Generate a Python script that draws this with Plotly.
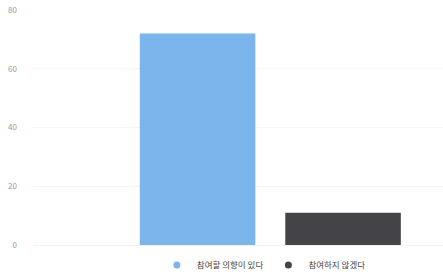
import plotly.graph_objects as go

categories = ["참여할 의향이 있다", "참여하지 않겠다"]
values = [72, 11]
colors = ["#7cb5ec", "#434348"]
y_ticks = [0, 20, 40, 60, 80]

fig = go.Figure()
for cat, val, col in zip(categories, values, colors):
    fig.add_trace(go.Bar(
        x=[cat], y=[val], name=cat, width=0.794,
        marker=dict(color=col, line=dict(width=0)),
        showlegend=False, hoverinfo="y",
    ))
    # legend entries with circle symbols
    fig.add_trace(go.Scatter(
        x=[None], y=[None], mode="markers", name=cat,
        marker=dict(color=col, size=7, symbol="circle"),
        showlegend=True,
    ))

fig.update_layout(
    width=443, height=277,
    margin=dict(l=33, r=0, t=10, b=32, autoexpand=False),
    plot_bgcolor="white", paper_bgcolor="white",
    barmode="overlay",
    font=dict(family="Noto Sans CJK KR, Noto Sans, sans-serif", size=8, color="#555"),
    xaxis=dict(
        type="category", range=[-1.131, 1.687], showticklabels=False,
        showgrid=False, zeroline=False, showline=True, linecolor="#f3f3f3", ticks="",
        automargin=False,
    ),
    yaxis=dict(
        range=[0, 80], tickvals=y_ticks, showgrid=True, gridcolor="#f4f4f4",
        zeroline=False, tickfont=dict(size=8, color="#999"), ticklabelstandoff=15,
        automargin=False,
    ),
    legend=dict(
        orientation="h", x=0.563, xanchor="center", y=-0.085, yanchor="middle",
        font=dict(size=8.5, color="#444"), itemwidth=30, tracegroupgap=0,
        bgcolor="rgba(0,0,0,0)",
    ),
)

fig.write_html("out.html", config={"displayModeBar": False},
               post_script="document.body.style.margin='0';")
